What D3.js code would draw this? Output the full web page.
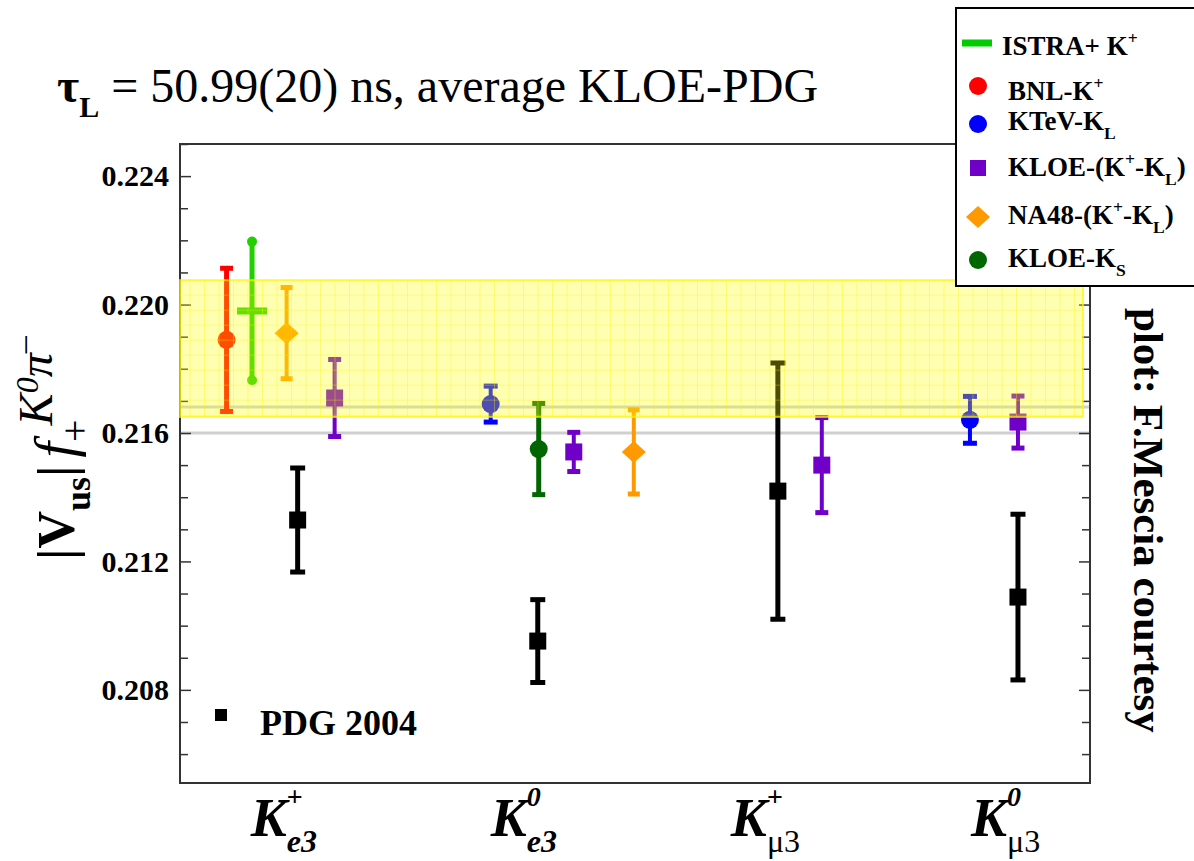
<html>
<head>
<meta charset="utf-8">
<script src="https://d3js.org/d3.v7.min.js"></script>
<style>
  body { margin: 0; background: #ffffff; }
  text { font-family: "Liberation Serif", "Times New Roman", serif; }
</style>
</head>
<body>
<div id="chart"></div>
<script>
// ---- data ----
var catSup = ["+", "0", "+", "0"];
var catSub = ["e3", "e3", "\u03bc3", "\u03bc3"];

// [category index, value, error]
var bnlKp    = [[0, 0.21890, 0.00223]];
var istraKp  = [[0, 0.21980, 0.00216]];
var na48     = [[0, 0.21911, 0.00142], [1, 0.21541, 0.00131]];
var kloeKpKL = [[0, 0.21709, 0.00120], [1, 0.21541, 0.00061], [2, 0.21500, 0.00148], [3, 0.21634, 0.00081]];
var ktevKL   = [[1, 0.21690, 0.00056], [3, 0.21641, 0.00073]];
var kloeKS   = [[1, 0.21550, 0.00142]];
var pdg2004  = [[0, 0.21329, 0.00162], [1, 0.20952, 0.00129], [2, 0.21419, 0.00399], [3, 0.21089, 0.00258]];

var averageBand = [0.21650, 0.22076];
var refLines = [0.21600, 0.21681];
var majorTicks = [0.208, 0.212, 0.216, 0.220, 0.224];
var minorTicks = [0.206, 0.207, 0.209, 0.210, 0.211, 0.213, 0.214, 0.215, 0.217, 0.218, 0.219, 0.221, 0.222, 0.223, 0.225];

// ---- layout ----
var W = 1194, H = 861;
var plotL = 180, plotR = 1090, plotT = 144, plotB = 783;

var svg = d3.select("#chart").append("svg")
    .attr("width", W).attr("height", H);

svg.append("rect").attr("width", W).attr("height", H).attr("fill", "#fff");

var x = d3.scaleLinear().domain([-0.49, 3.3]).range([plotL, plotR]);
var y = d3.scaleLinear().domain([0.2051, 0.2250]).range([plotB, plotT]);

// horizontal reference lines
svg.selectAll(".ref").data(refLines).enter().append("line")
    .attr("x1", plotL).attr("x2", plotR)
    .attr("y1", function(d) { return y(d); })
    .attr("y2", function(d) { return y(d); })
    .attr("stroke", "#cfcfcf").attr("stroke-width", 3);

// axes (ticks inward)
function styleAxis(g) {
  g.select(".domain").remove();
  g.selectAll("line").attr("stroke", "#333").attr("stroke-width", 1.5);
}
svg.append("g").attr("transform", "translate(" + plotL + ",0)")
    .call(d3.axisLeft(y).tickValues(majorTicks).tickSizeInner(-11).tickSizeOuter(0)
      .tickPadding(11).tickFormat(d3.format(".3f")))
    .call(styleAxis)
    .selectAll("text")
      .attr("font-family", "Liberation Serif").attr("font-weight", "bold")
      .attr("font-size", 30).attr("fill", "#000");
svg.append("g").attr("transform", "translate(" + plotL + ",0)")
    .call(d3.axisLeft(y).tickValues(minorTicks).tickSizeInner(-8).tickSizeOuter(0).tickFormat(""))
    .call(styleAxis);
svg.append("g").attr("transform", "translate(" + plotR + ",0)")
    .call(d3.axisRight(y).tickValues(majorTicks).tickSizeInner(-11).tickSizeOuter(0).tickFormat(""))
    .call(styleAxis);
svg.append("g").attr("transform", "translate(" + plotR + ",0)")
    .call(d3.axisRight(y).tickValues(minorTicks).tickSizeInner(-8).tickSizeOuter(0).tickFormat(""))
    .call(styleAxis);

// frame
svg.append("rect")
    .attr("x", plotL).attr("y", plotT)
    .attr("width", plotR - plotL).attr("height", plotB - plotT)
    .attr("fill", "none").attr("stroke", "#333").attr("stroke-width", 2);

// ---- error bar series ----
var series = [
  {data: pdg2004,  color: "#000000", marker: "square", size: 17, cap: 15, bar: 5, shift: [0, 0, 0, 0]},
  {data: bnlKp,    color: "#ff0000", marker: "circle", size: 9,  cap: 13, bar: 5, shift: [-0.296]},
  {data: na48,     color: "#ff9900", marker: "diamond", size: 12, cap: 12, bar: 4, shift: [-0.046, 0.40]},
  {data: kloeKpKL, color: "#7000c8", marker: "square", size: 17, cap: 13, bar: 4, shift: [0.154, 0.150, 0.183, 0]},
  {data: ktevKL,   color: "#0000ff", marker: "circle", size: 9,  cap: 14, bar: 4, shift: [0, -0.196, 0, -0.2]},
  {data: kloeKS,   color: "#006600", marker: "circle", size: 9,  cap: 13, bar: 5, shift: [0, 0.004]},
  {data: istraKp,  color: "#22d000", marker: "istra",  size: 30, cap: 5,  bar: 5, shift: [-0.19]}
];

function drawMarker(g, type, cx, cy, s, color) {
  if (type === "circle") {
    g.append("circle").attr("cx", cx).attr("cy", cy).attr("r", s).attr("fill", color);
  } else if (type === "square") {
    g.append("rect").attr("x", cx - s / 2).attr("y", cy - s / 2)
      .attr("width", s).attr("height", s).attr("fill", color);
  } else if (type === "diamond") {
    g.append("path").attr("d", "M" + (cx - s) + "," + cy + "L" + cx + "," + (cy - s * 0.92) +
      "L" + (cx + s) + "," + cy + "L" + cx + "," + (cy + s * 0.92) + "Z").attr("fill", color);
  } else if (type === "istra") {
    g.append("rect").attr("x", cx - s / 2).attr("y", cy - 3.5)
      .attr("width", s).attr("height", 7).attr("fill", color);
  }
}

var points = svg.append("g");
series.forEach(function(s) {
  s.data.forEach(function(d) {
    var cx = x(d[0] + (s.shift[d[0]] || 0));
    var yTop = y(d[1] + d[2]), yBot = y(d[1] - d[2]), cy = y(d[1]);
    var g = points.append("g");
    g.append("line").attr("x1", cx).attr("x2", cx).attr("y1", yTop).attr("y2", yBot)
      .attr("stroke", s.color).attr("stroke-width", s.bar);
    if (s.marker === "istra") {
      [yTop, yBot].forEach(function(v) {
        g.append("circle").attr("cx", cx).attr("cy", v).attr("r", s.cap).attr("fill", s.color);
      });
    } else {
      [yTop, yBot].forEach(function(v) {
        g.append("rect").attr("x", cx - s.cap / 2).attr("y", v - 2.5)
          .attr("width", s.cap).attr("height", 5).attr("fill", s.color);
      });
    }
    drawMarker(g, s.marker, cx, cy, s.size, s.color);
  });
});

// ---- average band (semi transparent, on top) ----
var bandL = plotL, bandR = 1083;
var bTop = y(averageBand[1]), bBot = y(averageBand[0]);
var band = svg.append("g");
band.append("rect").attr("x", bandL).attr("y", bTop)
    .attr("width", bandR - bandL).attr("height", bBot - bTop)
    .attr("fill", "rgba(255,255,0,0.30)");
var gridX = d3.range(bandL + 10, bandR, 14.5);
var gridY = d3.range(bTop + 15, bBot, 15);
band.selectAll(".gx").data(gridX).enter().append("line")
    .attr("x1", function(d) { return d; }).attr("x2", function(d) { return d; })
    .attr("y1", bTop).attr("y2", bBot)
    .attr("stroke", "rgba(250,240,0,0.35)").attr("stroke-width", 1);
band.selectAll(".gy").data(gridY).enter().append("line")
    .attr("x1", bandL).attr("x2", bandR)
    .attr("y1", function(d) { return d; }).attr("y2", function(d) { return d; })
    .attr("stroke", "rgba(250,240,0,0.35)").attr("stroke-width", 1);
band.append("rect").attr("x", bandL).attr("y", bTop)
    .attr("width", bandR - bandL).attr("height", bBot - bTop)
    .attr("fill", "none").attr("stroke", "rgba(255,245,0,0.7)").attr("stroke-width", 2);

// ---- rich text helper ----
function rich(text, parts, size) {
  var shift = 0;
  parts.forEach(function(p) {
    var target = p.k === "sup" ? -0.42 * size : p.k === "sub" ? 0.32 * size : 0;
    var ts = text.append("tspan").attr("dy", target - shift).text(p.t);
    if (p.k) ts.attr("font-size", p.fs || size * 0.65);
    if (p.fs && !p.k) ts.attr("font-size", p.fs);
    if (p.dx) ts.attr("dx", p.dx);
    if (p.style) ts.attr("font-style", p.style);
    if (p.weight) ts.attr("font-weight", p.weight);
    shift = target;
  });
}

// ---- title ----
var title = svg.append("text").attr("x", 57).attr("y", 102).attr("font-size", 48);
rich(title, [
  {t: "\u03c4", weight: "bold"},
  {t: "L", k: "sub", weight: "bold", fs: 30},
  {t: " = 50.99(20) ns, average KLOE-PDG"}
], 48);

// ---- y label ----
var ylab = svg.append("text").attr("transform", "translate(74,560) rotate(-90)")
    .attr("font-size", 52).attr("font-weight", "bold");
ylab.append("tspan").text("|V");
ylab.append("tspan").attr("dy", 16).attr("font-size", 36).text("us");
ylab.append("tspan").attr("dy", -16).text("|");
ylab.append("tspan").attr("dx", 8).attr("font-style", "italic").attr("font-weight", "normal")
    .attr("font-size", 56).text("f");
ylab.append("tspan").attr("dy", 14).attr("font-size", 40).attr("font-weight", "normal").text("+");
ylab.append("tspan").attr("dx", -6).attr("dy", -36).attr("font-size", 48).attr("font-style", "italic")
    .attr("font-weight", "normal").text("K");
ylab.append("tspan").attr("dy", -14).attr("font-size", 32).attr("font-style", "italic")
    .attr("font-weight", "normal").text("0");
ylab.append("tspan").attr("dy", 14).attr("font-size", 48).attr("font-style", "italic")
    .attr("font-weight", "normal").text("\u03c0");
ylab.append("tspan").attr("dy", -18).attr("font-size", 34)
    .attr("font-weight", "normal").text("\u2013");

// ---- x category labels ----
[0, 1, 2, 3].forEach(function(i) {
  var t = svg.append("text").attr("x", x(i) - 47).attr("y", 836)
      .attr("font-size", 54).attr("font-weight", "bold").attr("font-style", "italic");
  t.append("tspan").text("K");
  var sup = t.append("tspan").attr("dy", -30).attr("font-size", 28)
      .attr("font-style", catSup[i] === "0" ? "italic" : "normal").text(catSup[i]);
  var w = sup.node().getComputedTextLength();
  t.append("tspan").attr("dx", -w).attr("dy", 46).attr("font-size", 32)
      .attr("font-weight", i < 2 ? "bold" : "normal")
      .attr("font-style", i < 2 ? "italic" : "normal").text(catSub[i]);
});

// ---- PDG 2004 key ----
svg.append("rect").attr("x", 215).attr("y", 709).attr("width", 12).attr("height", 12).attr("fill", "#000");
svg.append("text").attr("x", 260).attr("y", 735).attr("font-size", 36).attr("font-weight", "bold")
    .text("PDG 2004");

// ---- courtesy note ----
svg.append("text").attr("transform", "translate(1134,308) rotate(90)")
    .attr("font-size", 43).attr("font-weight", "bold").text("plot: F.Mescia courtesy");

// ---- legend ----
var legend = svg.append("g");
legend.append("rect").attr("x", 956).attr("y", 8).attr("width", 260).attr("height", 278)
    .attr("fill", "#fff").attr("stroke", "#000").attr("stroke-width", 2);

var legendItems = [
  {marker: "line",    color: "#00cc00", y: 43,  parts: [{t: "ISTRA+ K"}, {t: "+", k: "sup"}], tx: 1002, ty: 55},
  {marker: "circle",  color: "#ff0000", y: 86,  parts: [{t: "BNL-K"}, {t: "+", k: "sup"}], tx: 1008, ty: 100},
  {marker: "circle",  color: "#0000ff", y: 124, parts: [{t: "KTeV-K"}, {t: "L", k: "sub"}], tx: 1008, ty: 130},
  {marker: "square",  color: "#7000c8", y: 168, parts: [{t: "KLOE-(K"}, {t: "+", k: "sup"}, {t: "-K"}, {t: "L", k: "sub"}, {t: ")"}], tx: 1008, ty: 176},
  {marker: "diamond", color: "#ff9900", y: 217, parts: [{t: "NA48-(K"}, {t: "+", k: "sup"}, {t: "-K"}, {t: "L", k: "sub"}, {t: ")"}], tx: 1008, ty: 224},
  {marker: "circle",  color: "#006600", y: 260, parts: [{t: "KLOE-K"}, {t: "S", k: "sub"}], tx: 1008, ty: 267}
];
legendItems.forEach(function(it) {
  if (it.marker === "line") {
    legend.append("rect").attr("x", 962).attr("y", it.y - 3.5).attr("width", 30).attr("height", 7)
      .attr("fill", it.color);
  } else {
    drawMarker(legend, it.marker, 978, it.y, it.marker === "square" ? 16 : it.marker === "diamond" ? 12 : 9, it.color);
  }
  var t = legend.append("text").attr("x", it.tx).attr("y", it.ty)
      .attr("font-size", 27).attr("font-weight", "bold");
  rich(t, it.parts, 27);
});
</script>
</body>
</html>
